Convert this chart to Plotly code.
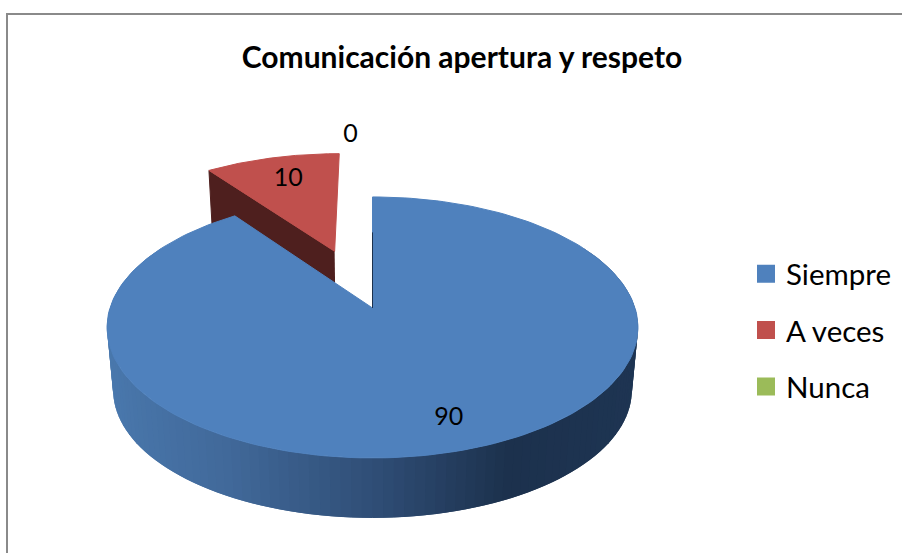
import numpy as np
import plotly.graph_objects as go

categories = ["Siempre", "A veces", "Nunca"]
values = [90, 10, 0]
colors = ["#4f81bd", "#c0504d", "#9bbb59"]
explode = [0.0, 0.5, 0.0]
label_radius = [0.8, 0.75, 1.2]
label_shift = [3, 2, -22]

# perspective of the tilted pie, in page pixels
CX, CY = 372.5, 308
SX, SY, PERSP = 262.5, 127.6, 0.149
DEPTH, BOTTOM_SCALE = 63.4, 0.977
FONT = "Lato"


def project(u, v, bottom=False):
    u, v = np.asarray(u, float), np.asarray(v, float)
    w = 1 + PERSP * v
    s = BOTTOM_SCALE if bottom else 1.0
    return CX + s * SX * u / w, CY + (DEPTH if bottom else 0) - s * SY * v / w


def polar(theta, r=1.0, offset=(0.0, 0.0)):
    return offset[0] + r * np.sin(theta), offset[1] + r * np.cos(theta)


def polygon(xs, ys, color, line=0):
    return go.Scatter(
        x=xs, y=ys, mode="lines", fill="toself", fillcolor=color,
        line=dict(color=color, width=line),
        hoverinfo="skip", showlegend=False,
    )


def wall_color(u):
    stops = [-1.0, -0.5, 0.0, 0.43, 1.0]
    r = np.interp(u, stops, [0x4a, 0x41, 0x2f, 0x1c, 0x1e])
    g = np.interp(u, stops, [0x79, 0x69, 0x4d, 0x31, 0x35])
    b = np.interp(u, stops, [0xae, 0x9a, 0x75, 0x4d, 0x53])
    return f"rgb({r:.0f},{g:.0f},{b:.0f})"


total = sum(values)
fractions = [v / total for v in values]
edges = np.cumsum([0] + fractions) * 2 * np.pi

fig = go.Figure()

# slices back to front: A veces first, Siempre over it
for i in [1, 0]:
    a0, a1 = edges[i], edges[i + 1]
    mid = (a0 + a1) / 2
    off = (explode[i] * np.sin(mid), explode[i] * np.cos(mid))
    arc = np.linspace(a0, a1, 200)

    if i == 1:
        # flank of the pulled out slice
        u0, v0 = polar(a0, 1.0, off)
        uc, vc = off
        xs_t, ys_t = project([uc, u0], [vc, v0])
        xs_b, ys_b = project([u0, uc], [v0, vc], bottom=True)
        fig.add_trace(polygon(list(xs_t) + list(xs_b), list(ys_t) + list(ys_b), "#4e1f1e", 1))
    else:
        # outer rim, overlapping bands painted in order so no seams show
        steps = np.radians(np.arange(300, 58, -2))
        for t0, t1 in zip(steps[:-2], steps[2:]):
            band = np.linspace(t0, t1, 4)
            u, v = polar(band, 1.0, off)
            xs_t, ys_t = project(u, v)
            xs_b, ys_b = project(u[::-1], v[::-1], bottom=True)
            fig.add_trace(polygon(list(xs_t) + list(xs_b), list(ys_t) + list(ys_b),
                                  wall_color(np.sin(t0))))

    u, v = polar(arc, 1.0, off)
    xs, ys = project(np.r_[off[0], u], np.r_[off[1], v])
    fig.add_trace(polygon(list(xs) + [xs[0]], list(ys) + [ys[0]], colors[i], 1))

# thin dark edge of the Siempre cut
xs, ys = project([0, 0], [0, 0.65])
fig.add_trace(go.Scatter(x=xs, y=ys, mode="lines", line=dict(color="#1c314d", width=1),
                         hoverinfo="skip", showlegend=False))

# data labels
for i, val in enumerate(values):
    mid = (edges[i] + edges[i + 1]) / 2
    off = (explode[i] * np.sin(mid), explode[i] * np.cos(mid))
    if i == 2:
        off = (0.0, 0.5)
    u, v = polar(mid, label_radius[i], off)
    x, y = project(u, v)
    fig.add_trace(go.Scatter(
        x=[float(x) + label_shift[i]], y=[float(y) + 1], mode="text", text=[str(val)],
        textposition="middle center", textfont=dict(family=FONT, size=25, color="#000000"),
        hoverinfo="skip", showlegend=False,
    ))

# legend entries
for name, color in zip(categories, colors):
    fig.add_trace(go.Scatter(
        x=[None], y=[None], mode="markers", name=name, legendgroup=name,
        marker=dict(symbol="square", size=16, color=color, line=dict(color=color, width=2)),
    ))

fig.update_layout(
    width=902, height=553,
    margin=dict(l=0, r=0, t=0, b=0),
    paper_bgcolor="#ffffff", plot_bgcolor="#ffffff",
    title=dict(
        text="<b>Comunicación apertura y respeto</b>",
        x=462 / 902, xanchor="center", y=1 - 57 / 553, yanchor="middle",
        font=dict(family=FONT, size=30, color="#000000"),
    ),
    legend=dict(
        x=746 / 902, xanchor="left", y=1 - 248 / 553, yanchor="top",
        font=dict(family=FONT, size=29.5, color="#000000"),
        tracegroupgap=15, itemwidth=30, bgcolor="rgba(0,0,0,0)",
    ),
    shapes=[dict(type="rect", xref="x", yref="y", x0=7, y0=14, x1=920, y1=570,
                 line=dict(color="#8a8a8a", width=2), layer="below")],
    xaxis=dict(range=[0, 902], visible=False, fixedrange=True),
    yaxis=dict(range=[553, 0], visible=False, fixedrange=True),
)

fig.write_html("out.html", config={"displayModeBar": False},
               post_script="document.body.style.margin='0';")
